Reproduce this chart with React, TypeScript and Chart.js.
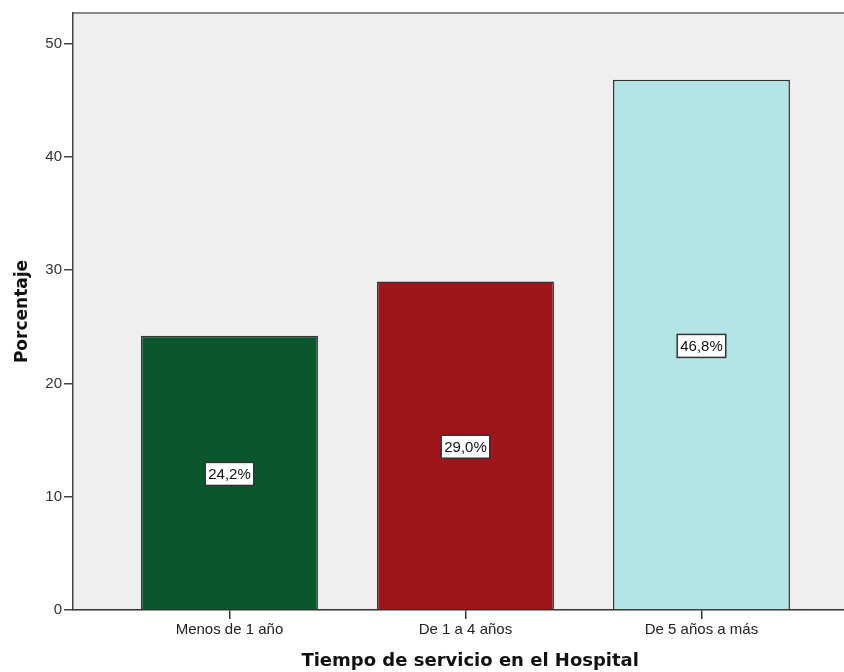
import React, { useEffect, useRef } from "react";
import { Chart, registerables } from "chart.js";

Chart.register(...registerables);

// Categories and percentages
const categories = ["Menos de 1 año", "De 1 a 4 años", "De 5 años a más"];
const percentages = [24.2, 29.0, 46.8];
const barColors = ["#0b572d", "#a0151a", "#b3e5e6"];
const yTicks = [0, 10, 20, 30, 40, 50];
const xPositions = [1, 2, 3];
const xTitle = "Tiempo de servicio en el Hospital";

const fmt = (v: number) => v.toFixed(1).replace(".", ",") + "%";

// Light plot background plus the top frame line
const plotBackground = {
  id: "plotBackground",
  beforeDraw(chart: any) {
    const { ctx, chartArea } = chart;
    ctx.save();
    ctx.fillStyle = "#efefef";
    ctx.fillRect(chartArea.left, chartArea.top, chartArea.right - chartArea.left, chartArea.bottom - chartArea.top);
    ctx.strokeStyle = "#8a8a8a";
    ctx.lineWidth = 2;
    ctx.beginPath();
    ctx.moveTo(chartArea.left, chartArea.top);
    ctx.lineTo(chartArea.right, chartArea.top);
    ctx.stroke();
    ctx.restore();
  },
};

// Boxed value labels at mid-height of each bar, and the x-axis title
const valueLabels = {
  id: "valueLabels",
  afterDatasetsDraw(chart: any) {
    const { ctx } = chart;
    const xScale = chart.scales.x;
    const yScale = chart.scales.y;
    const meta = chart.getDatasetMeta(0);
    ctx.save();
    ctx.font = "15px 'Liberation Sans', Arial, sans-serif";
    ctx.textAlign = "center";
    ctx.textBaseline = "middle";
    meta.data.forEach((bar: any, i: number) => {
      const v = percentages[i];
      const text = fmt(v);
      const x = bar.x;
      const y = yScale.getPixelForValue(v / 2) + 1;
      const w = ctx.measureText(text).width + 6;
      const h = 23;
      ctx.fillStyle = "#ffffff";
      ctx.fillRect(x - w / 2, y - h / 2, w, h);
      ctx.strokeStyle = "#333333";
      ctx.lineWidth = 1.5;
      ctx.strokeRect(x - w / 2, y - h / 2, w, h);
      ctx.fillStyle = "#111111";
      ctx.fillText(text, x, y + 1);
    });

    // x-axis title, centred under the middle category
    ctx.font = "bold 18px 'DejaVu Sans', sans-serif";
    ctx.fillStyle = "#111111";
    ctx.fillText(xTitle, xScale.getPixelForValue(2.02), 661);
    ctx.restore();
  },
};

export default function App() {
  const canvasRef = useRef<HTMLCanvasElement>(null);

  useEffect(() => {
    document.body.style.margin = "0";
    const canvas = canvasRef.current!;
    const chart = new Chart(canvas, {
      type: "bar",
      data: {
        datasets: [
          {
            data: xPositions.map((x, i) => ({ x, y: percentages[i] })),
            backgroundColor: barColors,
            borderColor: "#333333",
            borderWidth: 1.5,
            barPercentage: 0.75,
            categoryPercentage: 1,
          },
        ],
      },
      options: {
        animation: false,
        responsive: false,
        maintainAspectRatio: false,
        layout: { padding: { top: 13, right: 0, bottom: 0, left: 0 } },
        plugins: {
          legend: { display: false },
          tooltip: { enabled: false },
        },
        scales: {
          x: {
            type: "linear",
            offset: false,
            min: 0.337,
            max: 3.604,
            afterBuildTicks: (scale: any) => {
              scale.ticks = xPositions.map((v) => ({ value: v }));
            },
            afterFit: (scale: any) => {
              scale.height = 62;
            },
            ticks: {
              autoSkip: false,
              maxRotation: 0,
              padding: 2,
              color: "#222222",
              font: { family: "'Liberation Sans', Arial, sans-serif", size: 15 },
              callback: (value: any) => categories[xPositions.indexOf(Number(value))] ?? "",
            },
            grid: {
              offset: false,
              drawOnChartArea: false,
              drawTicks: true,
              tickLength: 9,
              color: "#333333",
              lineWidth: 1.5,
            },
            border: { display: true, color: "#333333", width: 1.5 },
            title: { display: false },
          },
          y: {
            min: 0,
            max: 52.7,
            afterBuildTicks: (scale: any) => {
              scale.ticks = yTicks.map((v) => ({ value: v }));
            },
            afterFit: (scale: any) => {
              scale.width = 73;
            },
            ticks: {
              padding: 2,
              color: "#333333",
              font: { family: "'Liberation Sans', Arial, sans-serif", size: 15 },
            },
            grid: {
              drawOnChartArea: false,
              drawTicks: true,
              tickLength: 9,
              color: "#444444",
              lineWidth: 1.5,
            },
            border: { display: true, color: "#444444", width: 1.5 },
            title: {
              display: true,
              text: "Porcentaje",
              color: "#111111",
              font: { family: "'DejaVu Sans', sans-serif", size: 17, weight: "bold" },
              padding: { top: 12, bottom: 0 },
            },
          },
        },
      },
      plugins: [plotBackground, valueLabels],
    });
    return () => chart.destroy();
  }, []);

  return (
    <div style={{ width: 844, height: 672 }}>
      <canvas ref={canvasRef} width={844} height={672} style={{ display: "block" }} />
    </div>
  );
}
